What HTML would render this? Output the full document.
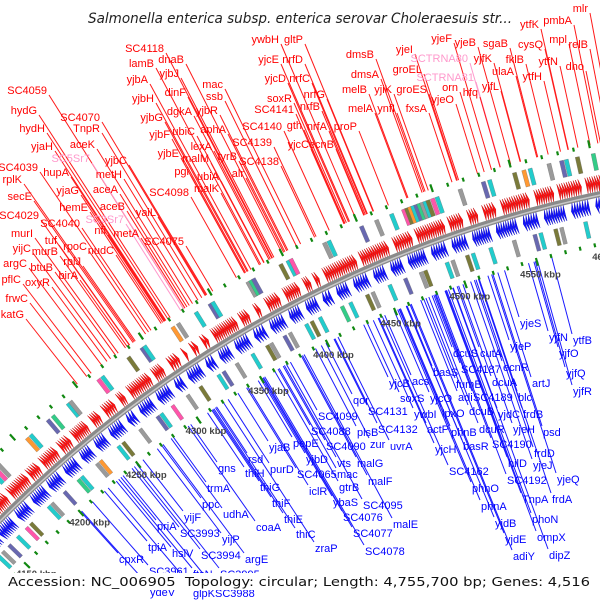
<!DOCTYPE html>
<html><head><meta charset="utf-8">
<style>
html,body{margin:0;padding:0;background:#fff;}
#wrap{position:relative;width:600px;height:600px;overflow:hidden;background:#fff;}
svg{position:absolute;left:0;top:0;}
text{font-family:"Liberation Sans",sans-serif;}
</style></head>
<body>
<div id="wrap">
<svg id="map" width="600" height="600" viewBox="0 0 600 600">
<g id="labelLines"></g>
<g id="features"></g>
<g id="labels"></g>
<text x="300" y="23" text-anchor="middle" font-size="14" font-style="italic" fill="#222" textLength="424" lengthAdjust="spacingAndGlyphs" style="font-family:'DejaVu Sans',sans-serif">Salmonella enterica subsp. enterica serovar Choleraesuis str...</text>
<rect x="0" y="573" width="600" height="17" fill="#fff"/>
<text x="8" y="586" font-size="12.5" fill="#111" textLength="582" lengthAdjust="spacingAndGlyphs" style="font-family:'DejaVu Sans',sans-serif;white-space:pre">Accession: NC_006905  Topology: circular; Length: 4,755,700 bp; Genes: 4,516</text>
</svg>
</div>
<script>
// ---- data (kbp) ----
const genomeKbp = 4755.7;
const tickKbp = [4150,4200,4250,4300,4350,4400,4450,4500,4550,4600];
const fwdBlockStart = [4140,4162,4175,4192,4203,4218,4229,4244,4254,4266,4274,4293,4305,4316,4322,4330,4338,4358,4369,4377,4390,4404,4411,4418,4443,4466,4481,4503,4516,4526,4538,4560,4575,4593];
const fwdBlockEnd   = [4160,4172,4190,4200,4215,4226,4240,4250,4262,4270,4290,4300,4312,4318,4326,4334,4355,4364,4372,4386,4400,4408,4414,4440,4462,4478,4500,4512,4522,4534,4556,4572,4590,4620];
const fwdBlockGenes = [14,7,10,5,8,5,8,4,5,3,11,5,4,1,2,2,12,4,2,6,7,3,2,15,13,8,13,6,4,5,12,8,10,18];
const revBlockStart = [4138,4152,4168,4182,4196,4210,4224,4236,4248,4262,4272,4286,4300,4310,4324,4334,4346,4360,4372,4386,4398,4410,4420,4432,4446,4458,4470,4486,4500,4514,4530,4548,4562,4580,4596];
const revBlockEnd   = [4150,4164,4178,4193,4206,4220,4232,4244,4258,4268,4282,4296,4306,4320,4330,4342,4356,4368,4382,4394,4406,4416,4428,4442,4454,4466,4482,4496,4510,4526,4544,4558,4576,4592,4620];
const revBlockGenes = [8,8,6,7,6,6,5,5,6,3,6,6,3,6,3,5,6,4,6,5,5,3,5,6,5,5,8,6,6,8,9,6,9,7,14];
const outerCogKbp = [4142,4146,4158,4160,4163,4175,4178,4181,4205,4208,4222,4226,4238,4240,4262,4265,4285,4295,4297,4318,4322,4335,4345,4347,4372,4374,4376,4395,4400,4402,4425,4428,4450,4460,4470,4478,4480,4482,4484,4486,4488,4490,4492,4494,4497,4500,4515,4530,4534,4550,4556,4560,4572,4580,4583,4590,4600,4606];
const outerCogColor = [1,0,0,2,3,0,4,1,5,0,3,6,0,1,4,0,2,3,0,5,1,0,3,0,1,6,3,2,0,4,1,0,3,1,0,4,2,5,0,3,6,1,0,2,4,0,1,3,0,2,5,0,1,3,0,2,6,1];
const innerCogKbp = [4140,4144,4150,4158,4166,4170,4186,4189,4200,4212,4215,4228,4231,4246,4250,4264,4278,4281,4290,4302,4312,4326,4330,4340,4352,4363,4366,4376,4380,4392,4396,4402,4418,4424,4436,4440,4452,4463,4474,4477,4492,4496,4506,4510,4522,4538,4552,4556,4566,4570,4586,4598];
const innerCogColor = [0,1,3,0,4,2,0,1,3,6,0,1,5,0,2,1,3,0,4,1,2,0,3,1,0,2,1,3,1,0,2,0,6,0,2,1,0,3,1,2,0,1,2,0,0,1,3,0,2,1,0,3];
const cogPalette = ["#22cccc","#9a9a9a","#7a7a3a","#6868b0","#ff55aa","#ff9933","#33cc88"];

// ---- label layout (screen anchors) ----
const redLabelNames = ["SC4118","lamB","dnaB","yjbA","yjbJ","SC4059","dinF","yjbH","hydG","dgkA","SC4070","yjbG","hydH","TnpR","yjbF","ubiC","yjaH","aceK","yjbE","SC5Sr7","yjbC","SC4039","hupA","pgi","rplK","metH","SC4098","yjaG","aceA","secE","hemE","aceB","yaiL","SC4029","SC3Sr7","SC4040","nfi","metA","murI","SC4075","tuf","yijC","murB","rpoC","nudC","argC","btuB","rplJ","birA","pflC","oxyR","frwC","katG",
"ywbH","gltP","yjcE","nrfD","dmsB","yjcD","nrfC","mac","dmsA","ssb","nrfG","soxR","melB","yjbR","nrfB","SC4141","melA","SC4140","gth","nrfA","proP","aphA","lexA","SC4139","yjcC","ecnB","malM","tyrB","SC4138","ubiA","alr","malK",
"ytfK","pmbA","mlr","yjeF","yjeB","sgaB","cysQ","mpl","relB","yjeI","SCTRNA80","yjfK","fklB","ytfN","dho","groEL","ulaA","ytfH","SCTRNA81","yjiK","groES","orn","hfq","yjfL","yjeO","ynfI","fxsA"];
const redLabelX = [164,154,184,148,179,47,186,154,37,192,100,163,45,100,170,195,53,95,179,90,127,38,69,189,22,122,189,79,118,32,88,125,156,39,124,80,106,139,33,184,57,31,58,87,114,27,53,81,78,21,50,28,24,
279,303,279,303,374,286,310,223,379,223,325,292,367,218,320,294,373,282,302,327,357,226,212,272,309,334,209,237,279,219,244,219,
539,572,588,452,476,508,543,567,588,413,468,492,524,558,584,422,514,542,474,392,427,458,478,499,454,395,427];
const redLabelY = [52,67,63,83,77,94,96,102,114,115,121,121,132,132,138,135,150,148,157,162,164,171,176,175,183,178,196,194,193,200,211,210,216,219,223,227,234,237,237,245,244,252,255,250,254,267,271,265,279,283,286,302,318,
43,43,63,63,58,82,82,88,78,100,98,102,93,114,110,113,112,130,129,130,130,133,150,146,148,148,162,160,165,180,177,192,
28,24,12,42,46,47,48,43,48,53,62,62,63,65,70,73,75,80,81,93,93,91,96,90,103,112,112];
const pinkNames = ["SC5Sr7","SC3Sr7","SCTRNA80","SCTRNA81"];

const blueLabelNames = ["gns","trmA","ppc","udhA","yijF","coaA","priA","SC3993","yijP","tpiA","hslV","SC3994","argE","cpxR","SC3961","ftsN","SC3995","ydeV","glpK","SC3988",
"yjaB","thiH","purD","thiG","thiF","thiE","thiC","zraP","rsd","pepE","yjbD","SC4065","iclR","SC4088","SC4099","qor","SC4090","vts","mac","gtrB","ybaS","SC4076","SC4077","SC4078","plsB","malG","malF","SC4095","malE","zur","SC4131","SC4132","uvrA",
"yjeS","yjfN","ytfB","yjeP","yjfO","dcuS","cutA","basS","SC4187","ecnR","yjfQ","yjcB","acs","fumB","dcuA","artJ","yjfR","soxS","yjcO","adi","SC4189","blc","ywbI","lpxO","dcuB","yjdC","frdB","actP","phnB","dcuR","yjeH","psd","yjcH","basR","SC4190","frdD","hilD","yjeJ","SC4162","SC4192","yjeQ","phnO","TnpA","frdA","phnA","phoN","yjdB","ompX","yjdE","adiY","dipZ"];
const blueLabelX = [218,207,202,223,184,256,157,180,222,148,172,201,245,119,149,193,220,150,193,215,
269,245,270,260,272,284,296,315,248,293,306,297,309,311,318,353,326,337,337,339,333,343,353,365,357,357,368,363,393,370,368,378,390,
520,549,573,510,559,453,480,433,461,503,566,389,412,456,492,532,573,400,430,458,473,518,414,442,469,498,523,427,451,479,513,543,435,463,492,534,508,533,449,507,557,472,522,552,481,532,495,537,505,513,549];
const blueLabelY = [472,492,508,518,521,531,530,537,543,551,557,559,563,563,575,578,578,596,597,597,
451,477,473,491,507,523,538,552,463,447,463,478,495,435,420,404,450,467,478,491,506,521,537,555,436,467,485,509,528,448,415,433,450,
327,341,344,350,357,357,357,376,373,371,377,387,385,388,386,387,395,402,402,401,401,401,418,417,415,418,418,433,436,433,433,436,453,450,448,457,467,469,475,484,483,492,503,503,510,523,527,541,543,560,559];

// ---- geometry ----
const CX = 842.5, CY = 1356, R = 1187;
const NS = "http://www.w3.org/2000/svg";
function ang(kbp){ return (-105.6 + (kbp - 4550) * 360 / genomeKbp) * Math.PI / 180; }
function pt(kbp, r){ const a = ang(kbp); return [CX + r*Math.cos(a), CY + r*Math.sin(a)]; }
function ptA(a, r){ return [CX + r*Math.cos(a), CY + r*Math.sin(a)]; }
function f(p){ return p[0].toFixed(1)+","+p[1].toFixed(1); }
const gL = document.getElementById("labelLines");
const gF = document.getElementById("features");
const gT = document.getElementById("labels");
function mk(tag, attrs, parent){ const e = document.createElementNS(NS, tag); for (const k in attrs) e.setAttribute(k, attrs[k]); parent.appendChild(e); return e; }

for (let i = 0; i < redLabelNames.length; i++){
  const x = redLabelX[i] + 2, y = redLabelY[i] + 1;
  const dx = CX - x, dy = CY - y, d = Math.hypot(dx, dy);
  const L = d - (R + 50);
  const pink = pinkNames.includes(redLabelNames[i]);
  const ln = mk("line", {x1:x, y1:y, x2:(x + dx/d*L).toFixed(1), y2:(y + dy/d*L).toFixed(1), stroke: pink ? "#ff99cc" : "#ff1a1a", "stroke-width":1}, gL);
  
  
  const t = mk("text", {x:redLabelX[i], y:redLabelY[i], "text-anchor":"end", "font-size":11, fill: pink ? "#ff99cc" : "#ff0000"}, gT);
  t.textContent = redLabelNames[i];
  
  
}
for (let i = 0; i < blueLabelNames.length; i++){
  const x = blueLabelX[i] - 1, y = blueLabelY[i] - 10;
  const dx = x - CX, dy = y - CY, d = Math.hypot(dx, dy);
  const L = (R - 50) - d;
  const ln = mk("line", {x1:x, y1:y, x2:(x + dx/d*L).toFixed(1), y2:(y + dy/d*L).toFixed(1), stroke:"#1a1aff", "stroke-width":1}, gL);
  
  
  const t = mk("text", {x:blueLabelX[i], y:blueLabelY[i], "font-size":11, fill:"#0000ff"}, gT);
  t.textContent = blueLabelNames[i];
  
  
}

(function(){
  const a0 = ang(4100), a1 = ang(4660);
  const p0 = ptA(a0, R), p1 = ptA(a1, R);
  const bb = mk("path", {d:"M"+f(p0)+" A"+R+","+R+" 0 0 1 "+f(p1), fill:"none", stroke:"#8a8a8a", "stroke-width":6}, gF);
  
  
  const hl = mk("path", {d:"M"+f(ptA(a0,R-1))+" A"+(R-1)+","+(R-1)+" 0 0 1 "+f(ptA(a1,R-1)), fill:"none", stroke:"#c8c8c8", "stroke-width":1.5}, gF);
  
  
})();

const headA = 8 / R;
function arrow(s, e, r1, r2, fwd, color, name){
  let a0 = ang(s), a1 = ang(e);
  const rm = (r1 + r2) / 2;
  let pts;
  if (fwd){
    const ah = Math.max(a0, a1 - headA);
    pts = [ptA(a0,r1), ptA(ah,r1), ptA(a1,rm), ptA(ah,r2), ptA(a0,r2)];
  } else {
    const ah = Math.min(a1, a0 + headA);
    pts = [ptA(a1,r1), ptA(ah,r1), ptA(a0,rm), ptA(ah,r2), ptA(a1,r2)];
  }
  const p = mk("polygon", {points: pts.map(f).join(" "), fill: color, stroke: fwd ? "#c00000" : "#0000c0", "stroke-width":0.4}, gF);
  
  
}
for (let b = 0; b < fwdBlockStart.length; b++){
  const n = fwdBlockGenes[b], step = (fwdBlockEnd[b] - fwdBlockStart[b]) / n;
  for (let i = 0; i < n; i++){
    const s = fwdBlockStart[b] + i*step;
    arrow(s, s + step*0.9, R + 3, R + 19, true, "#ff1010", "forward-cds");
  }
}
for (let b = 0; b < revBlockStart.length; b++){
  const n = revBlockGenes[b], step = (revBlockEnd[b] - revBlockStart[b]) / n;
  for (let i = 0; i < n; i++){
    const s = revBlockStart[b] + i*step;
    arrow(s, s + step*0.9, R - 19, R - 3, false, "#1010ff", "reverse-cds");
  }
}
function bar(k, c, r1, r2, name){
  const w = 2.6;
  const pts = [pt(k, r1), pt(k + w, r1), pt(k + w, r2), pt(k, r2)];
  const p = mk("polygon", {points: pts.map(f).join(" "), fill: cogPalette[c], stroke:"#666", "stroke-width":0.3}, gF);
  
  
}
for (let i = 0; i < outerCogKbp.length; i++) bar(outerCogKbp[i], outerCogColor[i], R + 24, R + 41, "outer-cog-bar");
for (let i = 0; i < innerCogKbp.length; i++) bar(innerCogKbp[i], innerCogColor[i], R - 41, R - 24, "inner-cog-bar");

for (let k = 4100; k <= 4660; k += 10){
  const big = (k % 50 === 0);
  const o = mk("line", {}, gF);
  const a = pt(k, R + 47), b2 = pt(k, R + (big ? 55 : 51));
  o.setAttribute("x1", a[0]); o.setAttribute("y1", a[1]); o.setAttribute("x2", b2[0]); o.setAttribute("y2", b2[1]);
  o.setAttribute("stroke", "#118811"); o.setAttribute("stroke-width", 2.2);
  
  
  const inn = mk("line", {}, gF);
  const c = pt(k, R - 47), d = pt(k, R - (big ? 55 : 51));
  inn.setAttribute("x1", c[0]); inn.setAttribute("y1", c[1]); inn.setAttribute("x2", d[0]); inn.setAttribute("y2", d[1]);
  inn.setAttribute("stroke", "#118811"); inn.setAttribute("stroke-width", 2.2);
  
  
}
for (let i = 0; i < tickKbp.length; i++){
  const p = pt(tickKbp[i], R - 64);
  const t = mk("text", {x:p[0].toFixed(1), y:(p[1] + 3).toFixed(1), "text-anchor":"middle", "font-size":9.5, "font-weight":"bold", fill:"#444"}, gF);
  t.textContent = tickKbp[i] + " kbp";
  
  
}
</script>
</body></html>
